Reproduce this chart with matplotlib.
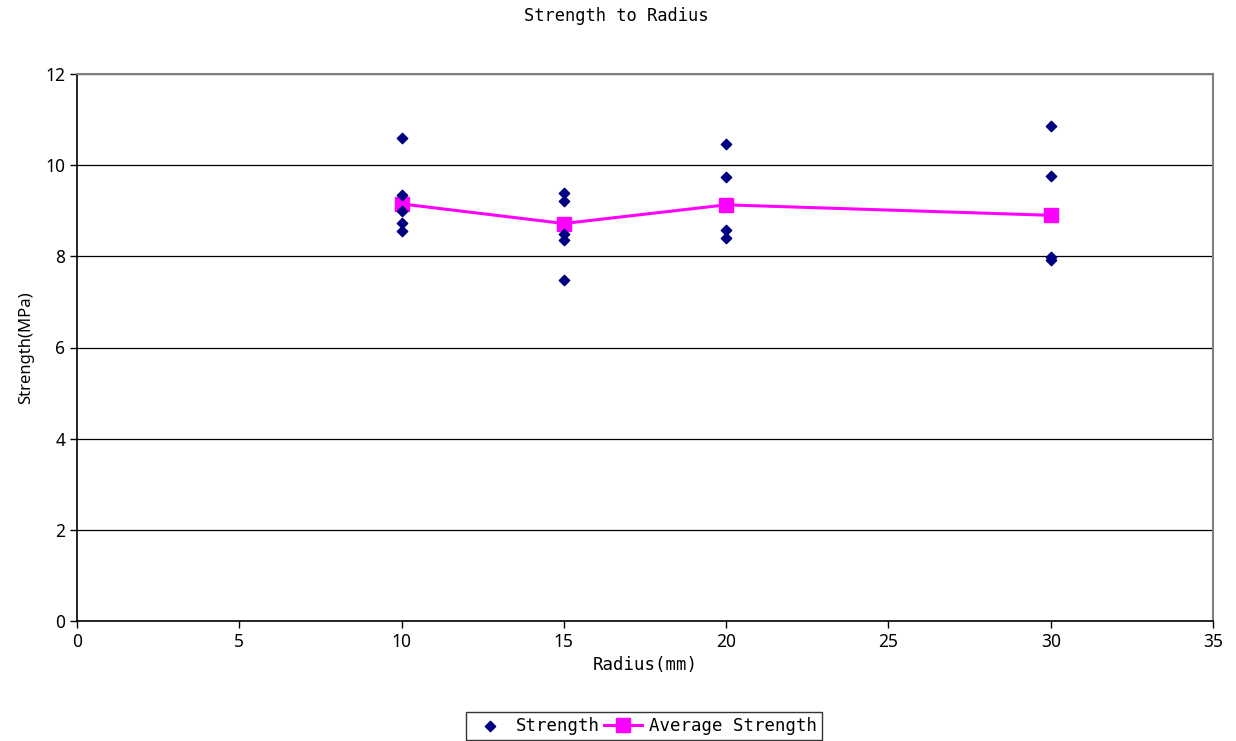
import matplotlib
matplotlib.use("Agg")
import matplotlib.pyplot as plt

# Individual strength measurements per radius
radius_points = [10, 10, 10, 10, 10,
                 15, 15, 15, 15, 15,
                 20, 20, 20, 20,
                 30, 30, 30, 30]
strength_points = [10.60, 9.35, 9.00, 8.73, 8.55,
                   9.40, 9.22, 8.50, 8.35, 7.48,
                   10.46, 9.73, 8.58, 8.40,
                   10.86, 9.77, 7.98, 7.93]

# Average strength per radius
radius_avg = [10, 15, 20, 30]
strength_avg = [9.15, 8.72, 9.13, 8.90]

x_ticks = [0, 5, 10, 15, 20, 25, 30, 35]
y_ticks = [0, 2, 4, 6, 8, 10, 12]

mono = "DejaVu Sans Mono"
tick_font = "Noto Sans"

fig = plt.figure(figsize=(12.36, 7.41), dpi=100)
ax = fig.add_axes([77 / 1236, 1 - 621 / 741, (1213 - 77) / 1236, (621 - 74) / 741])

ax.set_xlim(0, 35)
ax.set_ylim(0, 12)
ax.set_xticks(x_ticks)
ax.set_yticks(y_ticks)

ax.yaxis.grid(True, color="black", linewidth=0.9)
ax.set_axisbelow(True)

for side in ("left", "bottom"):
    ax.spines[side].set_color("black")
    ax.spines[side].set_linewidth(1.2)
for side in ("top", "right"):
    ax.spines[side].set_color("#808080")
    ax.spines[side].set_linewidth(1.5)

ax.tick_params(axis="both", direction="out", length=5, width=1, color="black",
               labelsize=12.5)
for lab in ax.get_xticklabels() + ax.get_yticklabels():
    lab.set_fontfamily(tick_font)

ax.plot(radius_avg, strength_avg, color="#FF00FF", linewidth=2.2,
        marker="s", markersize=9.5, markerfacecolor="#FF00FF",
        markeredgecolor="#FF00FF", label="Average Strength", zorder=3)
ax.scatter(radius_points, strength_points, marker="D", s=28, color="#000080",
           label="Strength", zorder=4)

fig.text(616 / 1236, 1 - 16 / 741, "Strength to Radius", fontsize=12.3,
         family=mono, ha="center", va="center")
ax.set_xlabel("Radius(mm)", fontsize=12.5, family=mono, labelpad=4)
ax.set_ylabel("Strength(MPa)", fontsize=12, family=tick_font, labelpad=8)

handles, labels = ax.get_legend_handles_labels()
order = [labels.index("Strength"), labels.index("Average Strength")]
leg = fig.legend([handles[i] for i in order], [labels[i] for i in order],
                 loc="center", bbox_to_anchor=(644 / 1236, 1 - 726 / 741),
                 ncol=2, frameon=True, fancybox=False, edgecolor="black",
                 prop={"family": mono, "size": 12.5}, handlelength=2.2,
                 handletextpad=0.4, columnspacing=0.2, borderpad=0.3)
leg.get_frame().set_linewidth(1.0)

fig.savefig("out.png", dpi=100, facecolor="white")
